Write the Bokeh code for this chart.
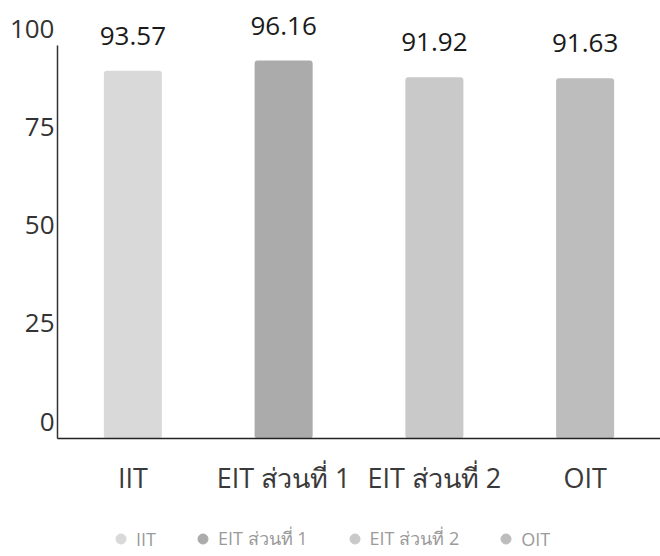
from bokeh.plotting import figure
from bokeh.models import ColumnDataSource, Range1d, LinearAxis, FixedTicker, Legend, LegendItem
from bokeh.layouts import column
from bokeh.embed import file_html
from bokeh.resources import INLINE
from bokeh.core.properties import value

# ---- data ----
categories = ["IIT", "EIT ส่วนที่ 1", "EIT ส่วนที่ 2", "OIT"]
scores = [93.57, 96.16, 91.92, 91.63]
y_ticks = [0, 25, 50, 75, 100]
colors = ["#d9d9d9", "#ababab", "#c9c9c9", "#bdbdbd"]

FONT = "Open Sans"
Y_TOP = 108.9          # headroom above the axis for value labels
LABEL_SHIFT = 4.3      # tick labels sit slightly above their tick

src = ColumnDataSource(dict(
    cat=categories,
    score=scores,
    label=[f"{v:.2f}" for v in scores],
    color=colors,
))

p = figure(
    x_range=categories, y_range=Range1d(0, Y_TOP),
    width=660, height=526,
    output_backend="svg", toolbar_location=None,
    min_border_left=57, min_border_right=0, min_border_top=10, min_border_bottom=88,
)
p.outline_line_color = None
p.xgrid.visible = False
p.ygrid.visible = False
p.background_fill_color = "white"

p.vbar(x="cat", top="score", width=0.385, source=src,
       fill_color="color", line_color=None, border_radius=3)

p.text(x="cat", y="score", text="label", source=src,
       y_offset=-35, text_align="center", text_baseline="middle",
       text_font=value(FONT), text_font_size="26px", text_color="#1a1a1a")

# y axis line (no labels) limited to the data extent
ya = p.yaxis[0]
ya.bounds = (0, y_ticks[-1])
ya.ticker = FixedTicker(ticks=[])
ya.axis_line_color = "#333333"
ya.axis_line_width = 1.5
ya.major_tick_line_color = None
ya.minor_tick_line_color = None
ya.major_tick_out = 0
ya.major_label_standoff = 0

# tick labels axis
p.extra_y_ranges = {"labels": Range1d(-LABEL_SHIFT, Y_TOP - LABEL_SHIFT)}
lab_axis = LinearAxis(
    y_range_name="labels", ticker=FixedTicker(ticks=y_ticks),
    axis_line_color=None, major_tick_line_color=None, minor_tick_line_color=None,
    major_tick_out=0, major_label_standoff=3,
    major_label_text_font=FONT, major_label_text_font_size="26px",
    major_label_text_color="#333333",
)
p.add_layout(lab_axis, "left")

xa = p.xaxis[0]
xa.axis_line_color = "#222222"
xa.axis_line_width = 1.6
xa.major_tick_line_color = None
xa.minor_tick_line_color = None
xa.major_label_standoff = 14
xa.major_label_text_font = FONT
xa.major_label_text_font_size = "27px"
xa.major_label_text_color = "#3a3a3a"

# ---- legend strip ----
lf = figure(x_range=categories, width=660, height=30, output_backend="svg",
            toolbar_location=None, x_axis_location=None, y_axis_location=None,
            min_border=0)
lf.outline_line_color = None
lf.xgrid.visible = False
lf.ygrid.visible = False

marks = lf.scatter(x="cat", y="score", source=src, marker="circle", size=0,
                   fill_color="color", line_color="color")
items = [LegendItem(label=cat, renderers=[marks], index=i)
         for i, cat in enumerate(categories)]

leg = Legend(
    items=items, orientation="horizontal", location=(51, 3),
    border_line_color=None, background_fill_alpha=0,
    label_text_font=FONT, label_text_font_size="18px", label_text_color="#9a9a9a",
    glyph_width=25, glyph_height=25, label_standoff=3, spacing=34,
    padding=0, margin=0,
)
lf.add_layout(leg, "center")

layout = column(p, lf)
open("out.html", "w").write(file_html(layout, INLINE))
